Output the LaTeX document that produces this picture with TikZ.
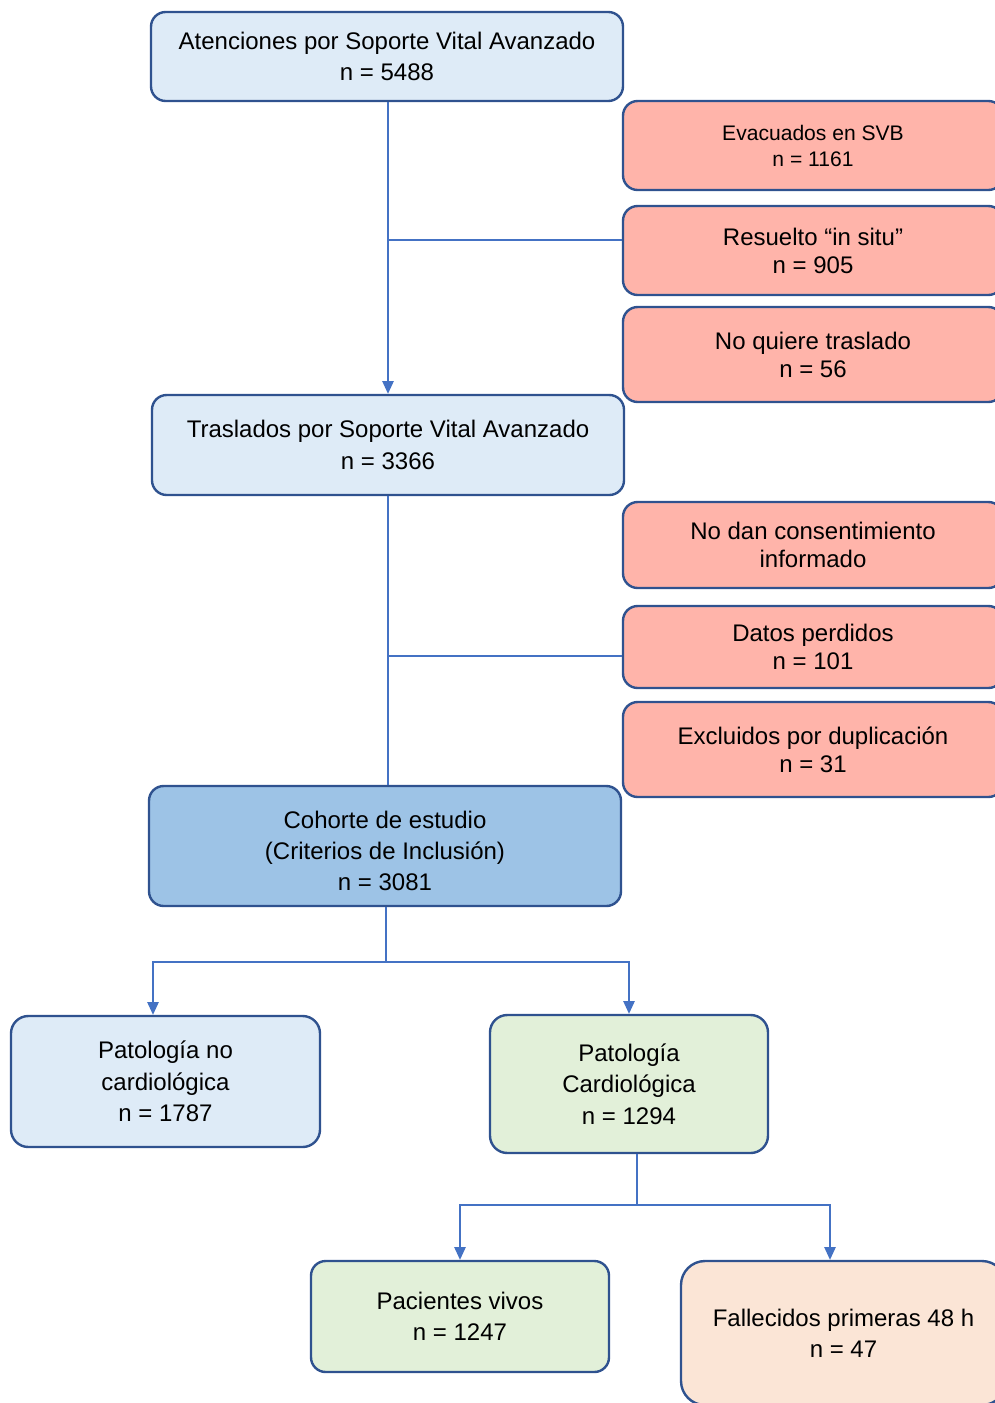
\documentclass[tikz,border=0pt]{standalone}
\usepackage{fontspec}
\setmainfont{Liberation Sans}
\usetikzlibrary{positioning, arrows.meta}
\definecolor{boxline}{HTML}{2F528F}
\definecolor{flowline}{HTML}{4472C4}
\definecolor{paleblue}{HTML}{DEEBF7}
\definecolor{midblue}{HTML}{9DC3E6}
\definecolor{salmon}{HTML}{FFB4AA}
\definecolor{palegreen}{HTML}{E2F0D9}
\definecolor{peach}{HTML}{FBE5D6}
\tikzset{
x=0.75pt, y=-0.75pt, % one unit is one pixel of the sketch, y runs down
flow/.style={draw=flowline, line width=1pt}, % plain joining lines
arr/.style={flow, -{Triangle[width=8.5pt,length=9.5pt]}}, % lines that end in a box
box/.style={draw=boxline, line width=1.8pt, rounded corners=11pt, align=center, inner sep=0pt, font=\fontsize{18}{23.5}\selectfont}, % every box
mainbox/.style={box, fill=paleblue}, % light blue boxes
outbox/.style={box, fill=salmon, minimum width=285pt, font=\fontsize{18}{21}\selectfont}, % excluded cases
}

\begin{document}
\begin{tikzpicture}
  \useasboundingbox (0,0) rectangle (995,1403);

  \node[mainbox, minimum width=354pt, minimum height=66.75pt] (atenc) at (387,56.5) {Atenciones por Soporte Vital Avanzado\\n = 5488};
  \node[outbox, minimum height=66.75pt, font=\fontsize{15.8}{19.5}\selectfont] (evac) at (813,145.5) {Evacuados en SVB\\n = 1161};
  \node[outbox, minimum height=66.75pt] (resuel) at (813,250.5) {Resuelto “in situ”\\n = 905};
  \node[outbox, minimum height=71.25pt] (noquiere) at (813,354.5) {No quiere traslado\\n = 56};
  \node[mainbox, minimum width=354pt, minimum height=75pt] (trasl) at (388,445) {Traslados por Soporte Vital Avanzado\\n = 3366};
  \node[outbox, minimum height=64.5pt] (nodan) at (813,545) {No dan consentimiento\\informado};
  \node[outbox, minimum height=61.5pt] (datos) at (813,647) {Datos perdidos\\n = 101};
  \node[outbox, minimum height=71.25pt] (exclu) at (813,749.5) {Excluidos por duplicación\\n = 31};
  \node[box, fill=midblue, minimum width=354pt, minimum height=90pt] (cohorte) at (385,846) {\\[-3pt]Cohorte de estudio\\(Criterios de Inclusión)\\n = 3081};
  \node[mainbox, minimum width=231.75pt, minimum height=98.25pt, rounded corners=13pt] (patno) at (165.5,1081.5) {Patología no\\cardiológica\\n = 1787};
  \node[box, fill=palegreen, minimum width=208.5pt, minimum height=103.5pt, rounded corners=13pt] (cardio) at (629,1084) {Patología\\Cardiológica\\n = 1294};
  \node[box, fill=palegreen, minimum width=223.5pt, minimum height=83.25pt] (vivos) at (460,1316.5) {Pacientes vivos\\n = 1247};
  \node[box, fill=peach, minimum width=243.75pt, minimum height=108pt, rounded corners=18pt] (fallec) at (843.5,1333) {Fallecidos primeras 48 h\\n = 47};

  \coordinate (j1) at (388,240);
  \coordinate (j2) at (388,656);
  \coordinate (j3) at (386,962);
  \coordinate (j4) at (637,1205);

  \draw[arr] (atenc.south -| trasl.north) -- (trasl.north);
  \draw[flow] (j1) -- (j1 -| resuel.west);
  \draw[flow] (trasl.south) -- (trasl.south |- cohorte.north);
  \draw[flow] (j2) -- (j2 -| datos.west);
  \draw[flow, line width=1.5pt] (j3 |- cohorte.south) -- (j3);
  \draw[arr] (j3) -| (153,0 |- patno.north);
  \draw[arr] (j3) -| (cardio.north);
  \draw[flow] (637,0 |- cardio.south) -- (j4);
  \draw[arr] (j4) -| (vivos.north);
  \draw[arr] (j4) -| (830,0 |- fallec.north);
\end{tikzpicture}
\end{document}
